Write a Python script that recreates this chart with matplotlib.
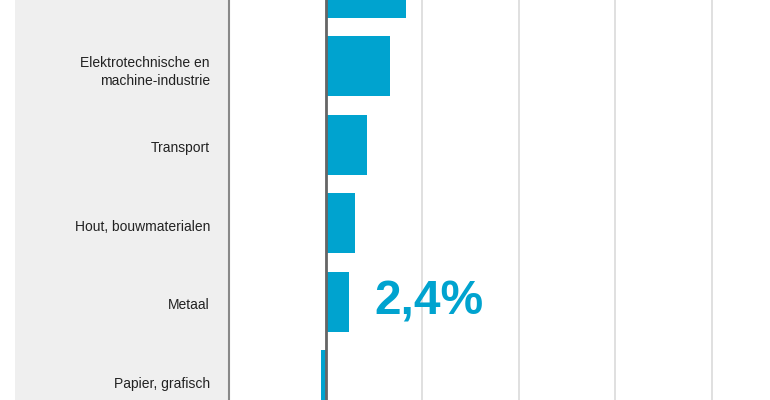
import matplotlib.pyplot as plt
from matplotlib.transforms import ScaledTranslation

plt.rcParams['font.family'] = ['Liberation Sans', 'DejaVu Sans']

# sectors, top one is cut off in the picture
sectors = ['Chemie', 'Elektrotechnische en\nmachine-industrie', 'Transport',
           'Hout, bouwmaterialen', 'Metaal', 'Papier, grafisch']
growth = [8.3, 6.7, 4.3, 3.1, 2.4, -0.5]
highlight = '2,4%'
grid_ticks = [0, 10, 20, 30, 40]

blue = '#00a3cf'

fig = plt.figure(figsize=(7.7, 4), dpi=100)

# grey label panel on the left
bg = fig.add_axes([15 / 770, 0, (229 - 15) / 770, 1], zorder=-1)
bg.set_facecolor('#efefef')
bg.set_xticks([])
bg.set_yticks([])
for s in bg.spines.values():
    s.set_visible(False)

ax = fig.add_axes([229 / 770, 0, 1 - 229 / 770, 1])
ax.set_facecolor('none')
ypos = list(range(len(sectors)))
ax.barh(ypos, growth, height=0.765, color=blue, zorder=3)

ax.set_xticks(grid_ticks)
ax.tick_params(axis='x', length=0, labelbottom=False)
ax.grid(axis='x', color='#dddddd', linewidth=1.3, zorder=1)
ax.axvline(0, color='#666666', linewidth=2, zorder=4)
ax.set_yticks([])

ax.set_xlim(-10, 46.06)
ax.set_ylim(5.25, 0.155)

# sector names, right aligned in the grey panel, a touch below the bar centre
lab_trans = ax.get_yaxis_transform() + ScaledTranslation(-0.19, -0.02, fig.dpi_scale_trans)
for y, name in zip(ypos[1:], sectors[1:]):  # the first one sits above the visible area
    ax.text(0, y, name, transform=lab_trans, ha='right', va='center_baseline',
            fontsize=10, color='#222222', linespacing=1.4, multialignment='right')

for side in ['top', 'right', 'bottom']:
    ax.spines[side].set_visible(False)
ax.spines['left'].set_color('#888888')
ax.spines['left'].set_linewidth(1.5)

ax.text(5.1, 4.164, highlight, color=blue, fontsize=34.5, fontweight='bold',
        va='baseline', ha='left', zorder=5)

fig.savefig('out.png', dpi=100)
